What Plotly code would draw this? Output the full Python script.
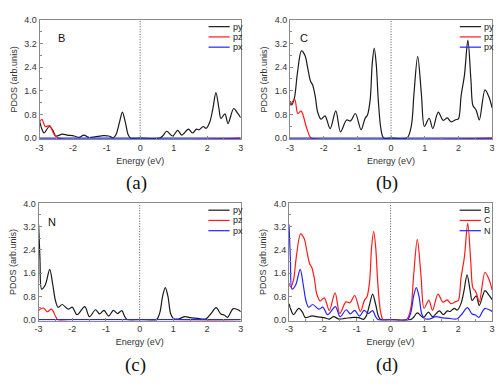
import plotly.graph_objects as go

# ---------------- data ----------------
E_B_py = [-3.0, -2.93, -2.87, -2.71, -2.6, -2.52, -2.32, -2.18, -1.97, -1.82, -1.68, -1.53, -1.35,
          -1.09, -0.94, -0.8, -0.72, -0.62, -0.53, -0.44, -0.36, -0.29, 0.0, 0.59, 0.68, 0.79, 0.97,
          1.12, 1.24, 1.44, 1.56, 1.68, 1.76, 1.88, 1.97, 2.08, 2.17, 2.26, 2.35, 2.41, 2.53, 2.62,
          2.79, 2.9, 3.0]
B_py = [0.55, 0.3, 0.17, 0.39, 0.25, 0.07, 0.13, 0.1, 0.07, 0.02, 0.1, 0.02, 0.04,
        0.08, 0.07, 0.01, 0.12, 0.52, 0.88, 0.52, 0.12, 0.0, 0.0, 0.0, 0.08, 0.23, 0.07,
        0.26, 0.1, 0.3, 0.17, 0.3, 0.28, 0.39, 0.33, 0.55, 1.0, 1.54, 1.0, 0.66, 0.82, 0.49,
        1.0, 0.85, 0.69]
E_B_pz = [-3.0, -2.93, -2.83, -2.7, -2.58, -2.44, 3.0]
B_pz = [0.55, 0.63, 0.39, 0.42, 0.15, 0.0, 0.0]

E_C_py = [-3.0, -2.95, -2.87, -2.78, -2.66, -2.55, -2.48, -2.39, -2.33, -2.25, -2.18, -2.08, -1.96,
          -1.81, -1.64, -1.5, -1.32, -1.2, -1.06, -0.89, -0.77, -0.7, -0.62, -0.56, -0.5, -0.44,
          -0.38, -0.3, -0.22, 0.0, 0.47, 0.6, 0.68, 0.79, 0.9, 0.99, 1.13, 1.24, 1.4, 1.55, 1.67,
          1.78, 1.92, 2.0, 2.08, 2.18, 2.28, 2.37, 2.43, 2.5, 2.54, 2.62, 2.79, 2.91, 3.0]
C_py = [1.25, 1.12, 1.35, 2.2, 2.95, 2.78, 2.4, 1.92, 1.8, 1.4, 0.88, 0.64, 0.75,
        0.32, 0.92, 0.21, 0.61, 0.58, 0.83, 0.28, 0.67, 0.78, 1.3, 2.5, 3.04, 2.5,
        1.3, 0.3, 0.0, 0.0, 0.0, 0.4, 1.5, 2.76, 1.5, 0.39, 0.67, 0.32, 0.88, 0.6, 0.68,
        0.55, 0.62, 0.65, 1.43, 2.14, 3.31, 1.98, 1.1, 0.99, 0.9, 0.61, 1.63, 1.38, 1.02]
E_C_pz = [-3.0, -2.86, -2.77, -2.67, -2.52, -2.42, -2.37, 3.0]
C_pz = [1.1, 1.3, 0.83, 0.91, 0.39, 0.07, 0.0, 0.0]

E_N_py = [-3.0, -2.96, -2.91, -2.8, -2.67, -2.58, -2.5, -2.42, -2.3, -2.12, -2.0, -1.86, -1.63,
          -1.49, -1.31, -1.19, -1.06, -0.92, -0.78, -0.66, -0.53, -0.45, -0.37, 0.0, 0.5, 0.6,
          0.68, 0.76, 0.84, 0.92, 1.0, 1.15, 1.34, 1.49, 1.73, 1.97, 2.12, 2.27, 2.41, 2.51,
          2.61, 2.78, 2.95, 3.0]
N_py = [3.27, 2.1, 1.05, 1.2, 1.73, 1.2, 0.65, 0.42, 0.52, 0.36, 0.43, 0.17, 0.45,
        0.1, 0.34, 0.2, 0.32, 0.12, 0.32, 0.21, 0.31, 0.12, 0.0, 0.0, 0.0, 0.25,
        0.8, 1.1, 0.8, 0.2, 0.04, 0.02, 0.1, 0.07, 0.04, 0.03, 0.21, 0.41, 0.19, 0.16,
        0.08, 0.38, 0.32, 0.27]
E_N_pz = [-3.0, -2.86, -2.74, -2.62, -2.49, -2.43, 3.0]
N_pz = [0.32, 0.4, 0.27, 0.36, 0.1, 0.0, 0.0]

E_px = [-3.0, 3.0]
px_zero = [0.0, 0.0]

x_ticks = [-3, -2, -1, 0, 1, 2, 3]
x_tick_text = ["-3", "-2", "-1", "0", "1", "2", "3"]
y_ticks = [0.0, 0.8, 1.6, 2.4, 3.2, 4.0]
y_tick_text = ["0.0", "0.8", "1.6", "2.4", "3.2", "4.0"]

# ---------------- styling ----------------
BLACK, RED, BLUE = "#1a1a1a", "#ff1a1a", "#2424ff"
SANS = "Liberation Sans, Arial, sans-serif"
SERIF = "Liberation Serif, Times New Roman, serif"
OFF = 8                      # page body margin
W, H = 503 - OFF, 386 - OFF  # figure size so that the page is 503x386


def fx(p):
    return (p - OFF) / W


def fy(p):
    return 1 - (p - OFF) / H


panels = [
    dict(n="", px=(36, 240), py=(15, 137), elem="B", ex=0.11, tag="(a)", ty=182,
         series=[(E_B_py, B_py, "py", BLACK), (E_B_pz, B_pz, "pz", RED), (E_px, px_zero, "px", BLUE)]),
    dict(n="2", px=(290, 495), py=(15, 137), elem="C", ex=0.068, tag="(b)", ty=182,
         series=[(E_C_py, C_py, "py", BLACK), (E_C_pz, C_pz, "pz", RED), (E_px, px_zero, "px", BLUE)]),
    dict(n="3", px=(35, 240), py=(203, 323), elem="N", ex=0.068, tag="(c)", ty=369,
         series=[(E_N_py, N_py, "py", BLACK), (E_N_pz, N_pz, "pz", RED), (E_px, px_zero, "px", BLUE)]),
    dict(n="4", px=(289, 495), py=(203, 323), elem=None, ex=0, tag="(d)", ty=369,
         series=[(E_B_py, B_py, "B", BLACK), (E_C_py, C_py, "C", RED), (E_N_py, N_py, "N", BLUE)]),
]

fig = go.Figure()
shapes, annotations = [], []
layout = {}

for p in panels:
    n = p["n"]
    xa, ya = "x" + n, "y" + n
    xdom = [fx(p["px"][0]), fx(p["px"][1])]
    ydom = [fy(p["py"][1]), fy(p["py"][0])]
    ph = p["py"][1] - p["py"][0]
    for (ex_, ey_, name, col) in p["series"]:
        fig.add_trace(go.Scatter(x=ex_, y=ey_, mode="lines", name=name, showlegend=False,
                                 line=dict(color=col, width=1.2, shape="spline", smoothing=0.9),
                                 xaxis=xa, yaxis=ya))
    axcommon = dict(showline=True, linecolor="#8a8a8a", linewidth=1, mirror=True,
                    showgrid=False, zeroline=False, ticks="inside", ticklen=3,
                    tickcolor="#8a8a8a", tickfont=dict(family=SANS, size=9, color="#333"))
    layout["xaxis" + n] = dict(domain=xdom, anchor=ya, range=[-3, 3], tickvals=x_ticks,
                               ticktext=x_tick_text,
                               minor=dict(dtick=0.5, tick0=0, ticks="inside", ticklen=2, tickcolor="#8a8a8a"),
                               title=dict(text="Energy (eV)", font=dict(family=SANS, size=9, color="#333"),
                                          standoff=5),
                               **axcommon)
    layout["yaxis" + n] = dict(domain=ydom, anchor=xa, range=[-0.03, 4.0], tickvals=y_ticks,
                               ticktext=y_tick_text,
                               minor=dict(dtick=0.4, tick0=0, ticks="inside", ticklen=2, tickcolor="#8a8a8a"),
                               title=dict(text="PDOS (arb.unis)", font=dict(family=SANS, size=9, color="#333"),
                                          standoff=5),
                               **axcommon)
    # Fermi level
    shapes.append(dict(type="line", xref=xa, yref=ya + " domain", x0=0, x1=0, y0=0, y1=1,
                       line=dict(color="#555", width=1, dash="1px,1.6px")))
    # compact legend
    for i, (_, _, name, col) in enumerate(p["series"]):
        yy = 1 - (7 + 10.5 * i) / ph
        shapes.append(dict(type="line", xref=xa + " domain", yref=ya + " domain",
                           x0=0.84, x1=0.945, y0=yy, y1=yy, line=dict(color=col, width=1.2)))
        annotations.append(dict(xref=xa + " domain", yref=ya + " domain", x=0.95, y=yy,
                                xanchor="left", yanchor="middle", text=name, showarrow=False,
                                font=dict(family=SANS, size=9, color="#222")))
    if p["elem"]:
        annotations.append(dict(xref=xa + " domain", yref=ya + " domain", x=p["ex"], y=0.845,
                                xanchor="center", yanchor="middle", text=p["elem"], showarrow=False,
                                font=dict(family=SANS, size=11, color="#111")))
    annotations.append(dict(xref="paper", yref="paper", x=(xdom[0] + xdom[1]) / 2 - 0.008,
                            y=fy(p["ty"]), xanchor="center", yanchor="middle",
                            text=p["tag"], showarrow=False,
                            font=dict(family=SERIF, size=19, color="#111")))

fig.update_layout(width=W, height=H, margin=dict(l=0, r=0, t=0, b=0),
                  paper_bgcolor="white", plot_bgcolor="white",
                  shapes=shapes, annotations=annotations, **layout)

fig.write_html("out.html")
